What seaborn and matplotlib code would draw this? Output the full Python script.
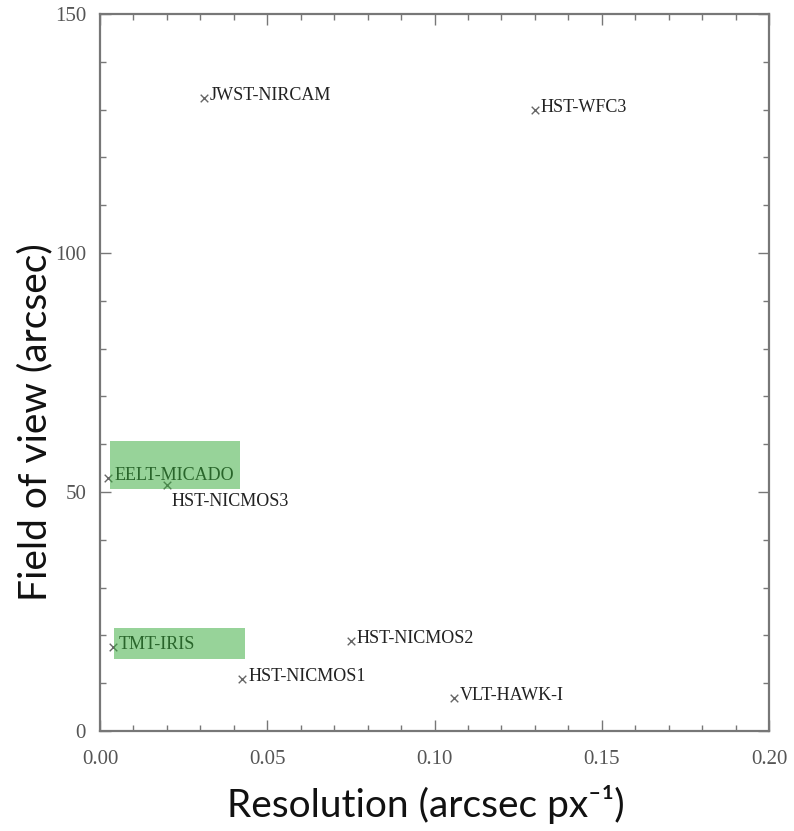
import matplotlib
matplotlib.use("Agg")
import matplotlib.pyplot as plt
import matplotlib.patches as mpatches
from matplotlib.ticker import MultipleLocator
import seaborn as sns
import pandas as pd

# ---- data ----
instruments = ["JWST-NIRCAM", "HST-WFC3", "EELT-MICADO", "HST-NICMOS3",
               "TMT-IRIS", "HST-NICMOS2", "HST-NICMOS1", "VLT-HAWK-I"]
resolution = [0.031, 0.130, 0.0025, 0.020, 0.0038, 0.075, 0.0425, 0.1057]
field_of_view = [132.5, 130.0, 53.0, 51.5, 17.5, 18.8, 10.8, 7.0]
highlighted = ["EELT-MICADO", "TMT-IRIS"]
x_ticks = [0.00, 0.05, 0.10, 0.15, 0.20]
y_ticks = [0, 50, 100, 150]

df = pd.DataFrame({"instrument": instruments, "res": resolution, "fov": field_of_view})

sns.set_theme(style="white")
plt.rcParams["font.family"] = ["Liberation Serif", "DejaVu Serif"]

fig = plt.figure(figsize=(7.94, 8.31), dpi=100)
ax = fig.add_axes([100 / 794, 1 - 731 / 831, 669 / 794, 717 / 831])

sns.scatterplot(data=df, x="res", y="fov", marker="x", color="#666666",
                s=30, linewidth=1.0, ax=ax, zorder=3)

# label offsets in pixels (dx, dy) from the marker
offsets = {"HST-NICMOS3": (5, -21)}
for name, xv, yv in zip(instruments, resolution, field_of_view):
    dx, dy = offsets.get(name, (6, -2))
    ax.annotate(name, (xv, yv), xytext=(dx, dy), textcoords="offset pixels",
                ha="left", va="baseline", fontsize=13, color="#222222", zorder=4)

# green highlight boxes over the emphasised instruments
for name in highlighted:
    i = instruments.index(name)
    x0 = resolution[i] + 0.0005
    y0 = field_of_view[i] - 2.4
    rect = mpatches.Rectangle((x0, y0), 0.039, 10.0 if name == "EELT-MICADO" else 6.4,
                              facecolor="#31a935", alpha=0.5, edgecolor="none", zorder=5)
    ax.add_patch(rect)

ax.set_xlim(0, 0.20)
ax.set_ylim(0, 150)
ax.set_xticks(x_ticks)
ax.set_xticklabels([f"{v:.2f}" for v in x_ticks])
ax.set_yticks(y_ticks)
ax.set_yticklabels([str(v) for v in y_ticks])
ax.xaxis.set_minor_locator(MultipleLocator(0.01))
ax.yaxis.set_minor_locator(MultipleLocator(10))
ax.tick_params(which="both", direction="in", top=True, right=True, bottom=True, left=True,
               color="#777777", width=1.0)
ax.tick_params(which="major", length=8)
ax.tick_params(which="minor", length=4)
ax.tick_params(axis="x", which="major", pad=14, labelsize=15, labelcolor="#555555")
ax.tick_params(axis="y", which="major", pad=10, labelsize=15, labelcolor="#555555")
for sp in ax.spines.values():
    sp.set_visible(True)
    sp.set_color("#777777")
    sp.set_linewidth(1.6)
ax.set_xlabel("")
ax.set_ylabel("")

fig.text(426 / 794, 1 - 805 / 831, "Resolution (arcsec px\u207b\u00b9)", ha="center", va="center",
         fontsize=28, family=["Lato", "DejaVu Sans"], color="#111111")
fig.text(35 / 794, 1 - 422 / 831, "Field of view (arcsec)", ha="center", va="center",
         rotation=90, fontsize=28, family=["Lato", "DejaVu Sans"], color="#111111")

fig.savefig("out.png", dpi=100)
